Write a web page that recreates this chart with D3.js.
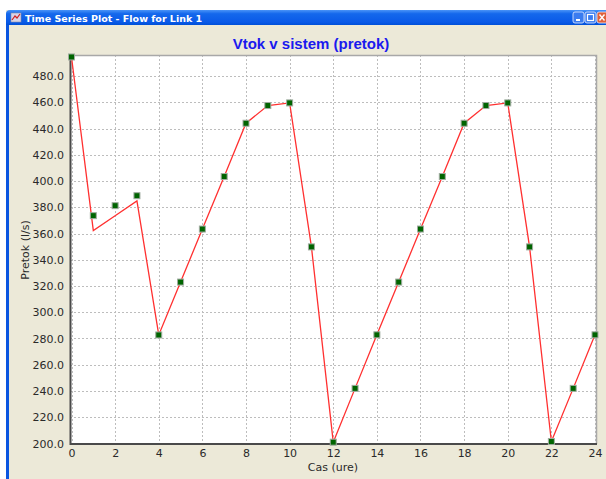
<!DOCTYPE html>
<html>
<head>
<meta charset="utf-8">
<script src="https://cdn.jsdelivr.net/npm/d3@7/dist/d3.min.js"></script>
<style>
  html, body { margin: 0; padding: 0; background: #ffffff; }
  svg { display: block; }
</style>
</head>
<body>
<svg id="chart" width="606" height="479"></svg>
<script>
// Hourly reporting values (markers) and the simulated flow curve (line)
const hours = d3.range(0, 25);
const pointValues = [494.5, 373.6, 381.2, 388.8, 282.7, 323.0, 363.4, 403.4, 444.0, 457.5, 459.5,
                     349.8, 201.0, 242.0, 282.8, 323.0, 363.4, 403.4, 444.0, 457.5, 459.5,
                     349.8, 201.5, 242.0, 282.8];
const lineValues  = [494.5, 362.2, 373.5, 384.8, 282.7, 323.0, 363.4, 403.4, 444.0, 457.5, 459.5,
                     349.8, 201.0, 242.0, 282.8, 323.0, 363.4, 403.4, 444.0, 457.5, 459.5,
                     349.8, 201.5, 242.0, 282.8];
const xTicks = d3.range(0, 25, 2);
const yTicks = d3.range(200, 481, 20);

const windowTitle = "Time Series Plot - Flow for Link 1";
const chartTitle = "Vtok v sistem (pretok)";
const xLabel = "Cas (ure)";
const yLabel = "Pretok (l/s)";

const svg = d3.select("#chart");
const W = 606, H = 479;
const font = "'DejaVu Sans', Verdana, sans-serif";

// Window chrome
svg.append("rect").attr("x", 6).attr("y", 10).attr("width", W - 6).attr("height", H - 10).attr("fill", "#ECE9D8");
const grad = svg.append("defs").append("linearGradient").attr("id", "tb").attr("x1", 0).attr("y1", 0).attr("x2", 0).attr("y2", 1);
grad.append("stop").attr("offset", "0%").attr("stop-color", "#4a93f7");
grad.append("stop").attr("offset", "25%").attr("stop-color", "#1468ec");
grad.append("stop").attr("offset", "80%").attr("stop-color", "#0a5ae8");
grad.append("stop").attr("offset", "100%").attr("stop-color", "#0050d8");
svg.append("path").attr("d", `M6,25 L6,14 Q6,10 10,10 L${W},10 L${W},25 Z`).attr("fill", "url(#tb)");
svg.append("rect").attr("x", 6).attr("y", 25).attr("width", 3).attr("height", H - 25).attr("fill", "#0a55e0");

// Window icon
svg.append("rect").attr("x", 11).attr("y", 13).attr("width", 10).attr("height", 9).attr("fill", "#d8d4e8").attr("stroke", "#8a8aa0").attr("stroke-width", 0.6);
svg.append("path").attr("d", "M12,20 L15,16 L17,18 L20,14").attr("fill", "none").attr("stroke", "#d02020").attr("stroke-width", 1.2);
svg.append("text").attr("x", 25).attr("y", 21.5).attr("fill", "#ffffff")
  .attr("font-family", "Tahoma, 'DejaVu Sans', sans-serif").attr("font-size", 9.5).attr("font-weight", "bold")
  .text(windowTitle);

// Caption buttons
const btn = (x, fill) => svg.append("rect").attr("x", x).attr("y", 12).attr("width", 11).attr("height", 11).attr("rx", 2)
  .attr("fill", fill).attr("stroke", "#e8eefc").attr("stroke-width", 0.8);
btn(573, "#3a7cf0");
svg.append("rect").attr("x", 576).attr("y", 19).attr("width", 4).attr("height", 2).attr("fill", "#fff");
btn(585, "#3a7cf0");
svg.append("rect").attr("x", 587.5).attr("y", 14.5).attr("width", 6).attr("height", 6).attr("fill", "none").attr("stroke", "#fff").attr("stroke-width", 1.2);
btn(597, "#e0603a");
svg.append("path").attr("d", "M599.5,14.5 L604.5,20.5 M604.5,14.5 L599.5,20.5").attr("stroke", "#fff").attr("stroke-width", 1.4);

// Plot geometry
const x = d3.scaleLinear().domain([0, 24]).range([71.5, 595]);
const y = d3.scaleLinear().domain([200, 496]).range([443.5, 55]);
const pl = 70, pt = 55, pr = 597, pb = 444;

svg.append("rect").attr("x", pl).attr("y", pt).attr("width", pr - pl).attr("height", pb - pt).attr("fill", "#ffffff");

// Grid lines
const grid = svg.append("g").attr("stroke", "#bdbdbd").attr("stroke-width", 1).attr("stroke-dasharray", "2,2");
grid.selectAll("line.v").data(xTicks).join("line").attr("class", "v")
  .attr("x1", d => Math.round(x(d)) + 0.5).attr("x2", d => Math.round(x(d)) + 0.5)
  .attr("y1", pt).attr("y2", pb);
grid.selectAll("line.h").data(yTicks).join("line").attr("class", "h")
  .attr("y1", d => Math.round(y(d)) + 0.5).attr("y2", d => Math.round(y(d)) + 0.5)
  .attr("x1", pl).attr("x2", pr);

// Plot frame: light top/right, dark left/bottom
svg.append("path").attr("d", `M${pl},${pt + 0.5} L${pr - 0.5},${pt + 0.5} L${pr - 0.5},${pb}`)
  .attr("fill", "none").attr("stroke", "#a8a8a8").attr("stroke-width", 1.5);
svg.append("path").attr("d", `M${pl + 0.5},${pt} L${pl + 0.5},${pb} L${pr},${pb}`)
  .attr("fill", "none").attr("stroke", "#4a4a4a").attr("stroke-width", 2);

// Axes
const xAxis = d3.axisBottom(x).tickValues(xTicks).tickSize(0).tickPadding(5).tickFormat(d3.format("d"));
const yAxis = d3.axisLeft(y).tickValues(yTicks).tickSize(0).tickPadding(6).tickFormat(d3.format(".1f"));
const gx = svg.append("g").attr("transform", `translate(0,${pb})`).call(xAxis);
const gy = svg.append("g").attr("transform", `translate(${pl},0)`).call(yAxis);
[gx, gy].forEach(g => {
  g.select(".domain").remove();
  g.selectAll("text").attr("font-family", font).attr("font-size", 11).attr("fill", "#2a2a2a");
});

// Titles
svg.append("text").attr("x", 311).attr("y", 49).attr("text-anchor", "middle")
  .attr("font-family", "'Liberation Sans', Arial, sans-serif").attr("font-size", 15).attr("font-weight", "bold")
  .attr("fill", "#1a1aee").text(chartTitle);
svg.append("text").attr("x", 333).attr("y", 471).attr("text-anchor", "middle")
  .attr("font-family", font).attr("font-size", 11).attr("fill", "#2a2a2a").text(xLabel);
svg.append("text").attr("transform", "translate(29,250) rotate(-90)").attr("text-anchor", "middle")
  .attr("font-family", font).attr("font-size", 11).attr("fill", "#2a2a2a").text(yLabel);

// Flow line
const line = d3.line().x((d, i) => x(hours[i])).y(d => y(d));
svg.append("path").datum(lineValues).attr("d", line)
  .attr("fill", "none").attr("stroke", "#ff3030").attr("stroke-width", 1.3);

// Markers
svg.append("g").selectAll("rect").data(pointValues).join("rect")
  .attr("x", (d, i) => x(hours[i]) - 3).attr("y", d => y(d) - 3)
  .attr("width", 6).attr("height", 6)
  .attr("fill", "#006400").attr("stroke", "#a0aca0").attr("stroke-width", 1);
</script>
</body>
</html>
